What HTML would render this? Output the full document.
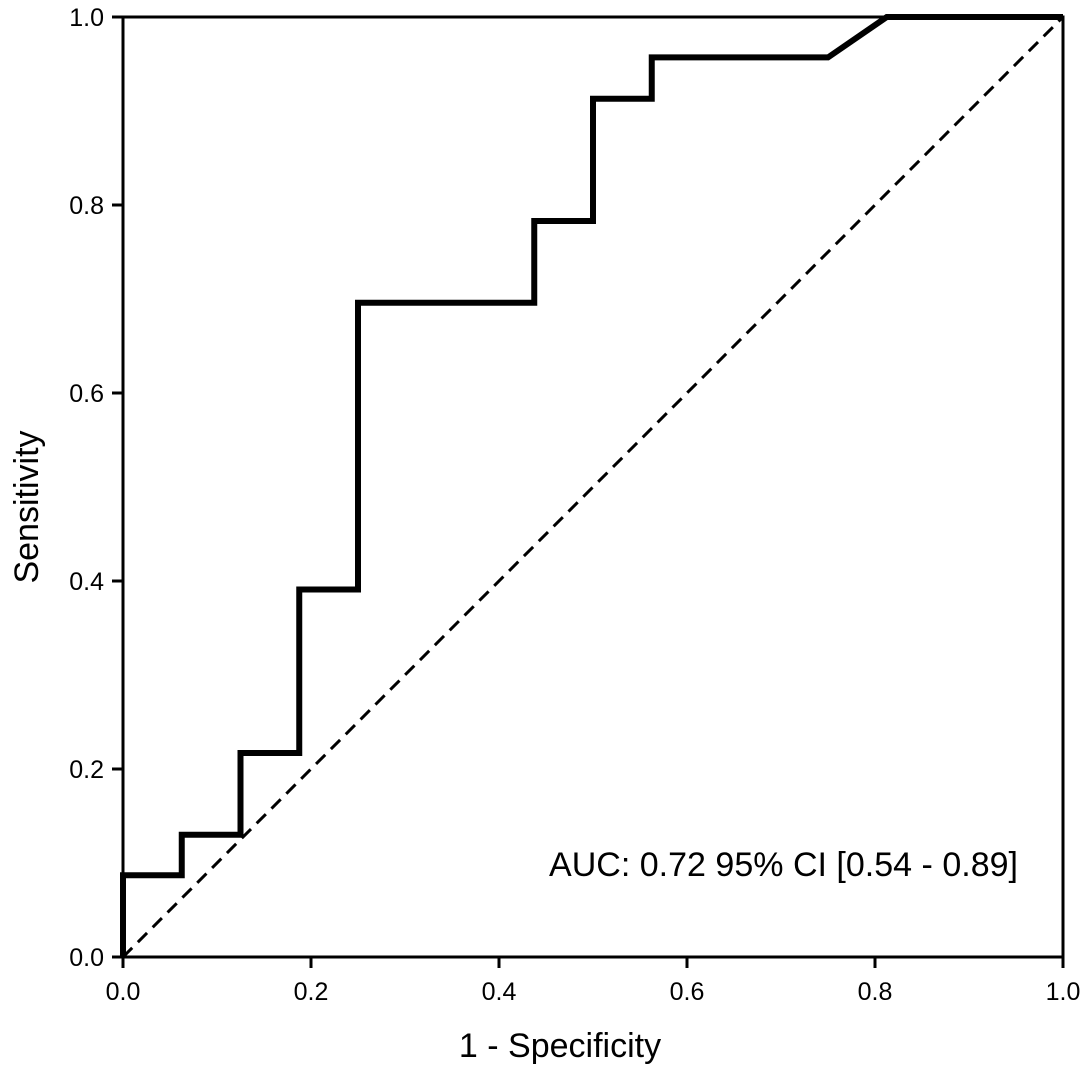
<!DOCTYPE html>
<html><head><meta charset="utf-8"><style>
body{margin:0;background:#fff}
svg{display:block;font-family:"Liberation Sans",sans-serif}
</style></head><body>
<svg id="chart" width="1087" height="1077" viewBox="0 0 1087 1077"></svg>
<script>
const xTicks=[0,0.2,0.4,0.6,0.8,1.0];
const yTicks=[0,0.2,0.4,0.6,0.8,1.0];
const fpr=[0,0,0.0625,0.0625,0.125,0.125,0.1875,0.1875,0.25,0.25,0.4375,0.4375,0.5,0.5,0.5625,0.5625,0.75,0.8125,1];
const tpr=[0,0.087,0.087,0.13,0.13,0.217,0.217,0.391,0.391,0.696,0.696,0.783,0.783,0.913,0.913,0.957,0.957,1,1];
const aucLabel="AUC: 0.72 95% CI [0.54 - 0.89]";
const X0=123,X1=1063,Y0=957,Y1=17;
const sx=v=>X0+v*(X1-X0), sy=v=>Y0-v*(Y0-Y1);
const svg=document.getElementById('chart');
const NS='http://www.w3.org/2000/svg';
function mk(t,a){const e=document.createElementNS(NS,t);for(const k in a)e.setAttribute(k,a[k]);svg.appendChild(e);return e;}
let e;
e=mk('rect',{x:X0,y:Y1,width:X1-X0,height:Y0-Y1,fill:'none',stroke:'#000','stroke-width':3});


xTicks.forEach(v=>{
  e=mk('line',{x1:sx(v),x2:sx(v),y1:Y0,y2:Y0+11,stroke:'#000','stroke-width':3});
  
  
  e=mk('text',{x:sx(v),y:Y0+43,'text-anchor':'middle','font-size':25});
  e.textContent=v.toFixed(1);
  
  
});
yTicks.forEach(v=>{
  e=mk('line',{x1:X0-11,x2:X0,y1:sy(v),y2:sy(v),stroke:'#000','stroke-width':3});
  
  
  e=mk('text',{x:X0-19,y:sy(v)+9,'text-anchor':'end','font-size':25});
  e.textContent=v.toFixed(1);
  
  
});
e=mk('line',{x1:sx(0),y1:sy(0),x2:sx(1),y2:sy(1),stroke:'#000','stroke-width':3,'stroke-dasharray':'13,8'});


e=mk('polyline',{points:fpr.map((v,i)=>sx(v)+','+sy(tpr[i])).join(' '),fill:'none',stroke:'#000','stroke-width':6,'stroke-linejoin':'miter'});


e=mk('text',{x:1018,y:876,'text-anchor':'end','font-size':34,textLength:469,lengthAdjust:'spacingAndGlyphs'});
e.textContent=aucLabel;


e=mk('text',{x:560,y:1057,'text-anchor':'middle','font-size':34});
e.textContent='1 - Specificity';


e=mk('text',{x:0,y:0,'text-anchor':'middle','font-size':34,transform:'translate(38,'+((Y0+Y1)/2+20)+') rotate(-90)'});
e.textContent='Sensitivity';


</script>
</body></html>
